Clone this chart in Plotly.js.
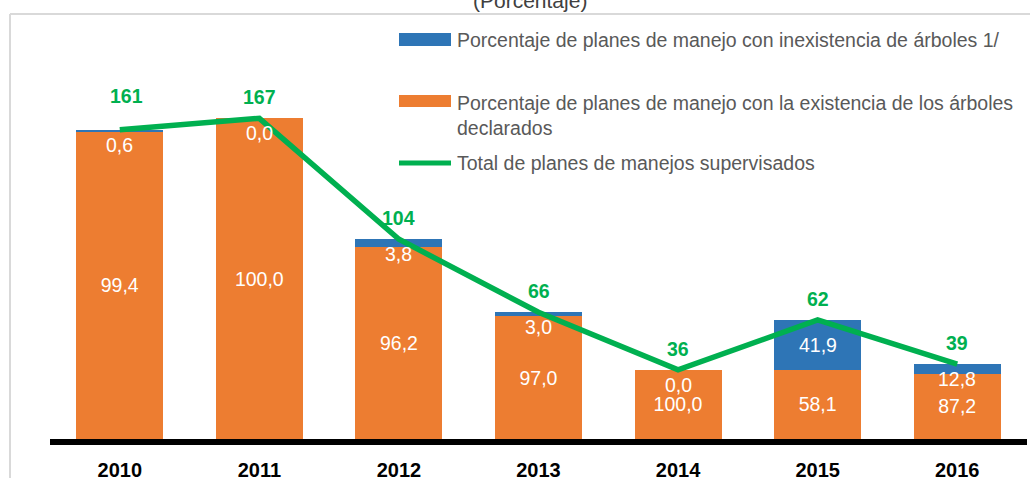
<!DOCTYPE html>
<html>
<head>
<meta charset="utf-8">
<script src="https://cdn.plot.ly/plotly-3.0.1.min.js"></script>
<style>html,body{margin:0;padding:0;background:#fff;overflow:hidden}</style>
</head>
<body>
<div id="chart" style="width:1030px;height:478px"></div>
<script>
// ---- data ----
var years = ['2010', '2011', '2012', '2013', '2014', '2015', '2016'];
var totalPlanes = [161, 167, 104, 66, 36, 62, 39];
var pctExistencia = [99.4, 100.0, 96.2, 97.0, 100.0, 58.1, 87.2];
var pctInexistencia = [0.6, 0.0, 3.8, 3.0, 0.0, 41.9, 12.8];
var nameInexistencia = 'Porcentaje de planes de manejo con inexistencia de árboles 1/';
var nameExistencia = 'Porcentaje de planes de manejo con la existencia de los árboles<br>declarados';
var nameTotal = 'Total de planes de manejos supervisados';
var subtitle = '(Porcentaje)';

// ---- style ----
var FONT = '"Liberation Sans", Arial, sans-serif';
var ORANGE = '#ED7D31', BLUE = '#2E75B6', GREEN = '#00B050', GREYTXT = '#595959';
var W = 1030, H = 478, ML = 50, MR = 3, MT = 20, MB = 39;
var PW = W - ML - MR, PH = H - MT - MB;
var YMAX = 218.2;
function px2x(p) { return (p - ML) / PW; }
function px2y(p) { return (H - MB - p) / PH; }
function fmt(v) { return v.toFixed(1).replace('.', ','); }

var orangeVals = totalPlanes.map(function (t, i) { return t * pctExistencia[i] / 100; });
var blueVals = totalPlanes.map(function (t, i) { return t * pctInexistencia[i] / 100; });

var traces = [
  {
    type: 'bar', x: years, y: orangeVals, name: nameExistencia,
    marker: { color: ORANGE, line: { width: 0 } },
    text: pctExistencia.map(fmt), texttemplate: '%{text}',
    textposition: 'inside', insidetextanchor: 'middle', textangle: 0,
    insidetextfont: { family: FONT, size: 19.5, color: '#ffffff' },
    hoverinfo: 'skip', showlegend: false
  },
  {
    type: 'bar', x: years, y: blueVals, name: nameInexistencia,
    marker: { color: BLUE, line: { width: 0 } },
    textposition: 'none', hoverinfo: 'skip', showlegend: false
  },
  {
    type: 'scatter', mode: 'lines', x: years, y: totalPlanes, name: nameTotal,
    line: { color: GREEN, width: 5.5 }, hoverinfo: 'skip', showlegend: false
  }
];

var annotations = [];
var pxPerUnit = PH / YMAX;
years.forEach(function (yr, i) {
  // total labels (x given as category index)
  annotations.push({
    x: i, y: totalPlanes[i], xref: 'x', yref: 'y', text: '<b>' + totalPlanes[i] + '</b>',
    showarrow: false, yanchor: 'middle', yshift: i === 0 ? 34 : 21, xshift: i === 0 ? 7 : 0,
    font: { family: FONT, size: 19.5, color: GREEN }
  });
  // blue labels
  var segPx = blueVals[i] * pxPerUnit;
  if (segPx > 30) {
    annotations.push({
      x: i, y: orangeVals[i] + blueVals[i] / 2, xref: 'x', yref: 'y', text: fmt(pctInexistencia[i]),
      showarrow: false, yanchor: 'middle', font: { family: FONT, size: 19.5, color: '#ffffff' }
    });
  } else {
    annotations.push({
      x: i, y: totalPlanes[i], xref: 'x', yref: 'y', text: fmt(pctInexistencia[i]),
      showarrow: false, yanchor: 'middle', yshift: -15, font: { family: FONT, size: 19.5, color: '#ffffff' }
    });
  }
});

// subtitle (cut at top)
annotations.push({
  x: px2x(530), y: px2y(14), xref: 'paper', yref: 'paper', text: subtitle,
  showarrow: false, xanchor: 'center', yanchor: 'bottom',
  font: { family: FONT, size: 21, color: '#404040' }
});

// custom legend
var legendItems = [
  { name: nameInexistencia, y: 40 },
  { name: nameExistencia, y: 116 },
  { name: nameTotal, y: 163 }
];
legendItems.forEach(function (it) {
  annotations.push({
    x: px2x(455), y: px2y(it.y), xref: 'paper', yref: 'paper', text: it.name,
    showarrow: false, xanchor: 'left', yanchor: 'middle', align: 'left',
    font: { family: FONT, size: 19.5, color: GREYTXT }
  });
});

var shapes = [
  // outer frame
  { type: 'line', xref: 'paper', yref: 'paper', x0: px2x(10), x1: px2x(1040), y0: px2y(14), y1: px2y(14),
    line: { color: '#D9D9D9', width: 2 }, layer: 'below' },
  { type: 'line', xref: 'paper', yref: 'paper', x0: px2x(10), x1: px2x(10), y0: px2y(14), y1: px2y(490),
    line: { color: '#D9D9D9', width: 2 }, layer: 'below' },
  // legend symbols
  { type: 'rect', xref: 'paper', yref: 'paper', x0: px2x(399), x1: px2x(451), y0: px2y(33), y1: px2y(46),
    fillcolor: BLUE, line: { width: 0 } },
  { type: 'rect', xref: 'paper', yref: 'paper', x0: px2x(399), x1: px2x(451), y0: px2y(95), y1: px2y(107),
    fillcolor: ORANGE, line: { width: 0 } },
  { type: 'line', xref: 'paper', yref: 'paper', x0: px2x(399), x1: px2x(451), y0: px2y(163), y1: px2y(163),
    line: { color: GREEN, width: 5 } }
];

var layout = {
  width: W, height: H,
  margin: { l: ML, r: MR, t: MT, b: MB, pad: 0 },
  paper_bgcolor: '#ffffff', plot_bgcolor: 'rgba(0,0,0,0)',
  barmode: 'stack', bargap: 0.376,
  showlegend: false,
  xaxis: {
    type: 'category', showgrid: false, zeroline: false,
    showline: true, linecolor: '#000000', linewidth: 6,
    ticks: '', ticklabelstandoff: 8,
    tickfont: { family: FONT, size: 20, color: '#000000', weight: 'bold' },
    fixedrange: true
  },
  yaxis: {
    range: [0, YMAX], visible: false, showgrid: false, zeroline: false, fixedrange: true
  },
  annotations: annotations,
  shapes: shapes
};

Plotly.newPlot('chart', traces, layout, { displayModeBar: false, staticPlot: true });
</script>
</body>
</html>
